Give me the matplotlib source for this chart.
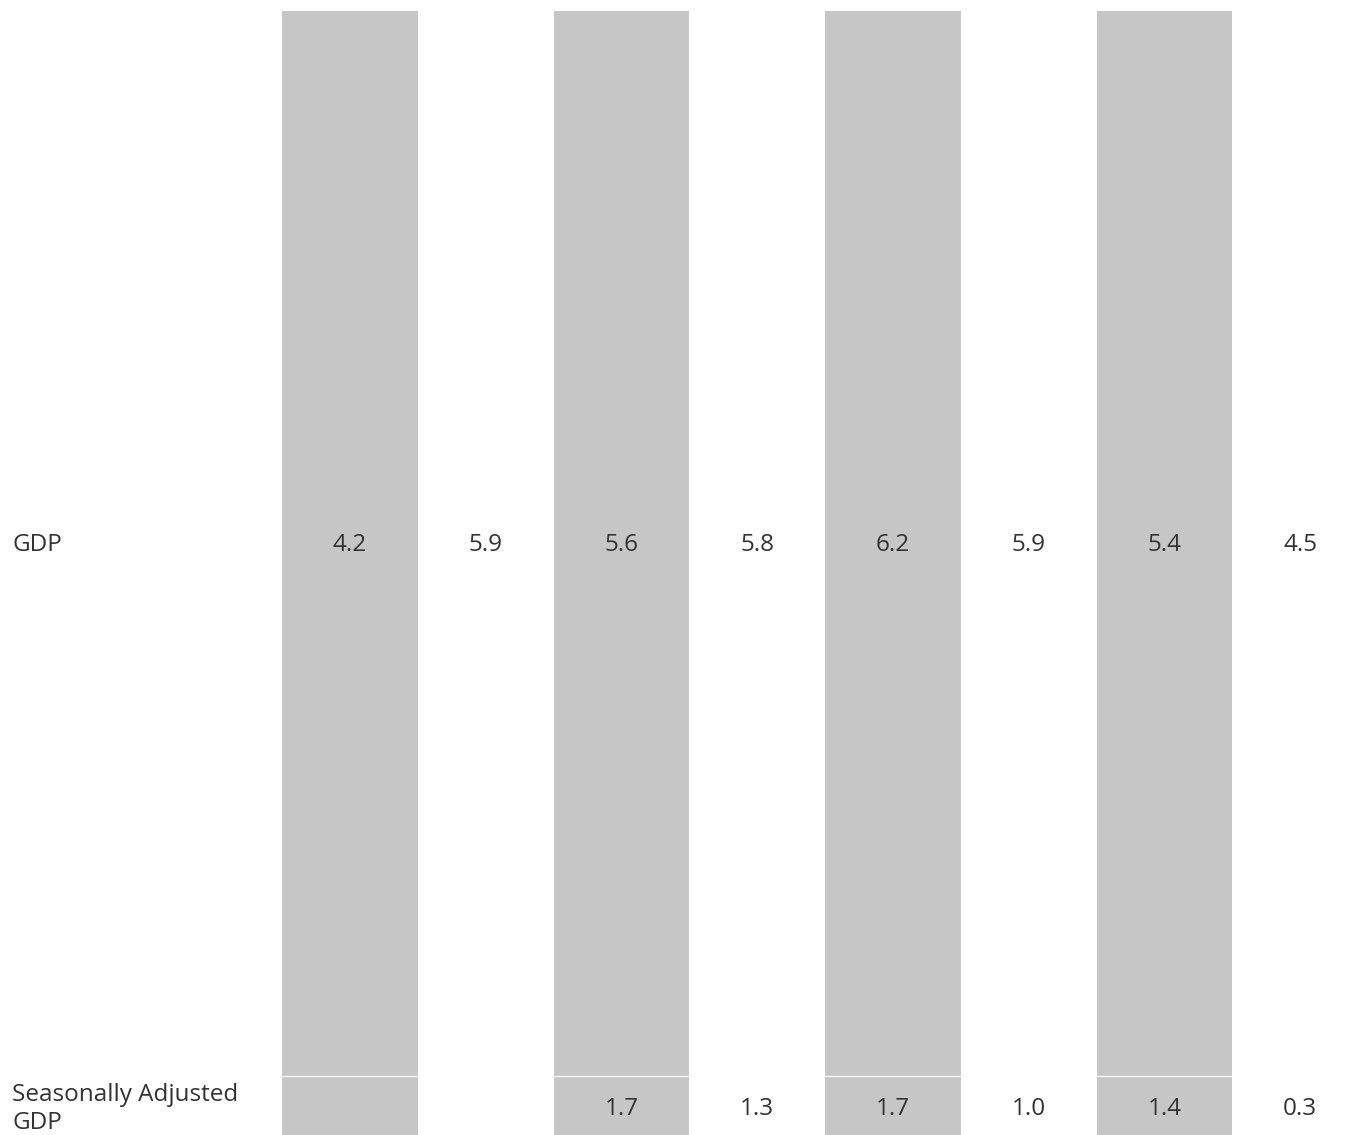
import matplotlib
matplotlib.use("Agg")
from matplotlib import pyplot as plt

plt.rcParams['font.family'] = ['Open Sans', 'DejaVu Sans']

rows = ['GDP', 'Seasonally Adjusted\nGDP']
gdp = ['4.2', '5.9', '5.6', '5.8', '6.2', '5.9', '5.4', '4.5']
sa_gdp = ['', '', '1.7', '1.3', '1.7', '1.0', '1.4', '0.3']
values = [gdp, sa_gdp]

# row extents in axis units (first row is tall, second one short and clipped)
row_edges = [0, 1065, 1124]
text_y = [534, 1098]

W, H = 1362, 1135
fig = plt.figure(figsize=(W / 100, H / 100), dpi=100)
ax = fig.add_axes([282 / W, 0, 8 * 135.75 / W, (H - 11) / H])
ax.set_xlim(-0.5, 7.5)
ax.set_ylim(row_edges[2], 0)
ax.axis('off')

gray = '#c6c6c6'
txt = '#333333'
for j in range(len(gdp)):
    if j % 2 == 0:
        ax.axvspan(j - 0.5, j + 0.5, color=gray, lw=0)
ax.axhline(row_edges[1], color='white', lw=0.9)

for i, vals in enumerate(values):
    for j, v in enumerate(vals):
        ax.text(j, text_y[i], v, ha='center', va='center', fontsize=17.5, color=txt)

for i, r in enumerate(rows):
    fig.text(12 / W, 1 - (11 + text_y[i]) / H, r, ha='left', va='center',
             fontsize=17.5, color=txt, linespacing=1.2)

fig.savefig('out.png', dpi=100)
